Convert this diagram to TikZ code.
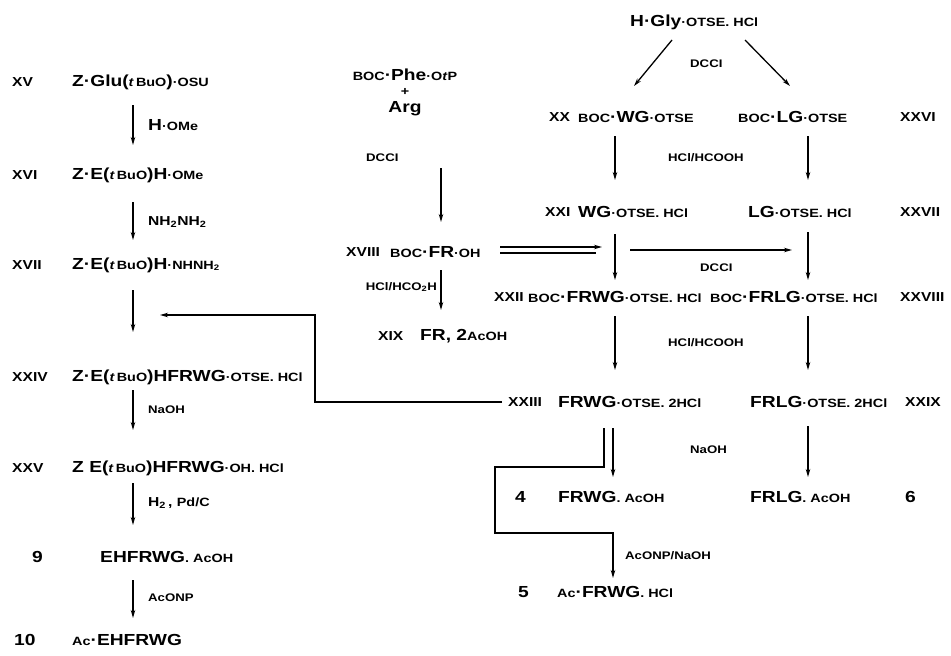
\documentclass[tikz,border=0pt]{standalone}
\usepackage{fontspec}
\setmainfont{Liberation Sans}[FakeStretch=1.2]
\usetikzlibrary{arrows.meta}
\newcommand{\sm}[1]{{\fontsize{12}{12}\selectfont #1}}
\newcommand{\tBuO}{\sm{\textit{t}\,BuO}}
\begin{document}
\begin{tikzpicture}[x=1pt,y=-1pt,
  every node/.style={inner sep=0pt,anchor=west,font=\fontsize{16}{16}\selectfont\bfseries},
  lab/.style={font=\fontsize{13}{13}\selectfont\bfseries},
  num/.style={font=\fontsize{16}{16}\selectfont\bfseries},
  rea/.style={font=\fontsize{11}{11}\selectfont\bfseries},
  arr/.style={-{Stealth[length=8pt,width=4.5pt]},line width=1.3pt},
  ln/.style={line width=1.3pt}]
\useasboundingbox (0,0) rectangle (951,656);
% ---------- left column ----------
\node[lab] (l15) at (12,82) {XV};
\node (f15) at (72,82) {Z·Glu(\tBuO)\sm{·OSU}};
\node (r1) at (148,125) {H\sm{·OMe}};
\node[lab] (l16) at (12,175) {XVI};
\node (f16) at (72,175) {Z·E(\tBuO)H\sm{·OMe}};
\node[font=\fontsize{13}{13}\selectfont\bfseries] (r2) at (148,222) {NH\textsubscript{2}NH\textsubscript{2}};
\node[lab] (l17) at (12,265) {XVII};
\node (f17) at (72,265) {Z·E(\tBuO)H\sm{·NHNH\textsubscript{2}}};
\node[lab] (l24) at (12,377) {XXIV};
\node (f24) at (72,377) {Z·E(\tBuO)HFRWG\sm{·OTSE. HCl}};
\node[rea] (r3) at (148,410) {NaOH};
\node[lab] (l25) at (12,468) {XXV};
\node (f25) at (72,468) {Z E(\tBuO)HFRWG\sm{·OH. HCl}};
\node[font=\fontsize{13}{13}\selectfont\bfseries] (r4) at (148,503) {H\textsubscript{2}\,, \sm{Pd/C}};
\node[num] (n9) at (32,557) {9};
\node (f9) at (100,557) {EHFRWG\sm{. AcOH}};
\node[rea] (r5) at (148,598) {AcONP};
\node[num] (n10) at (14,640) {10};
\node (f10) at (72,640) {\sm{Ac}·EHFRWG};
\foreach \n/\a/\b in {1/105/145,2/202/240,3/290/332,4/390/430,5/483/525,6/580/618}{
  \coordinate (la\n s) at (133,\a); \coordinate (la\n e) at (133,\b);
  \draw[arr] (la\n s) -- (la\n e);}
% ---------- middle ----------
\node[anchor=center] (phe) at (405,75) {\sm{BOC}·Phe\sm{·O\textit{t}P}};
\node[anchor=center,font=\fontsize{12}{12}\selectfont\bfseries] (plus) at (405,92) {+};
\node[anchor=center,font=\fontsize{16}{16}\selectfont\bfseries] (arg) at (405,109) {Arg};
\node[rea] (dcc1) at (366,158) {DCCI};
\coordinate (pa1s) at (441,168); \coordinate (pa1e) at (441,222);
\draw[arr] (pa1s) -- (pa1e);
\node[lab] (l18) at (346,252) {XVIII};
\node (f18) at (390,252) {\sm{BOC}·FR\sm{·OH}};
\coordinate (d1s) at (500,247); \coordinate (d1e) at (602,247);
\coordinate (d2s) at (500,253); \coordinate (d2e) at (596,253);
\draw[arr] (d1s) -- (d1e);
\draw[ln] (d2s) -- (d2e);
\node[rea,anchor=east] (r6) at (437,287) {HCl/HCO\textsubscript{2}H};
\coordinate (pa2s) at (441,270); \coordinate (pa2e) at (441,310);
\draw[arr] (pa2s) -- (pa2e);
\node[lab] (l19) at (378,336) {XIX};
\node (f19) at (420,336) {FR, 2\sm{AcOH}};
% ---------- right ----------
\node (gly) at (630,22) {H·Gly\sm{·OTSE. HCl}};
\coordinate (g1s) at (672,40); \coordinate (g1e) at (634,86);
\coordinate (g2s) at (745,40); \coordinate (g2e) at (790,86);
\draw[arr] (g1s) -- (g1e);
\draw[arr] (g2s) -- (g2e);
\node[rea] (dcc2) at (690,64) {DCCI};
\node[lab] (l20) at (549,117) {XX};
\node (f20) at (578,117) {\sm{BOC}·WG\sm{·OTSE}};
\node (f26) at (738,117) {\sm{BOC}·LG\sm{·OTSE}};
\node[lab] (l26) at (900,117) {XXVI};
\node[rea] (r7) at (668,158) {HCl/HCOOH};
\node[lab] (l21) at (545,212) {XXI};
\node (f21) at (578,212) {WG\sm{·OTSE. HCl}};
\node (f27) at (748,212) {LG\sm{·OTSE. HCl}};
\node[lab] (l27) at (900,212) {XXVII};
\coordinate (h1s) at (630,250); \coordinate (h1e) at (792,250);
\draw[arr] (h1s) -- (h1e);
\node[rea] (dcc3) at (700,268) {DCCI};
\node[lab] (l22) at (494,297) {XXII};
\node (f22) at (528,297) {\sm{BOC}·FRWG\sm{·OTSE. HCl}};
\node (f28) at (710,297) {\sm{BOC}·FRLG\sm{·OTSE. HCl}};
\node[lab] (l28) at (900,297) {XXVIII};
\node[rea] (r8) at (668,343) {HCl/HCOOH};
\node[lab] (l23) at (508,402) {XXIII};
\node (f23) at (558,402) {FRWG\sm{·OTSE. 2HCl}};
\node (f29) at (750,402) {FRLG\sm{·OTSE. 2HCl}};
\node[lab] (l29) at (905,402) {XXIX};
\node[rea] (r9) at (690,450) {NaOH};
\node[num] (n4) at (515,497) {4};
\node (f4) at (558,497) {FRWG\sm{. AcOH}};
\node (f6) at (750,497) {FRLG\sm{. AcOH}};
\node[num] (n6) at (905,497) {6};
\node[rea] (r10) at (625,556) {AcONP/NaOH};
\node[num] (n5) at (518,592) {5};
\node (f5) at (557,592) {\sm{Ac}·FRWG\sm{. HCl}};
\foreach \n/\x/\a/\b in {1/615/136/180,2/808/136/180,3/615/234/280,4/808/232/280,5/615/316/370,6/808/316/370,7/613/428/477,8/808/426/477}{
  \coordinate (ra\n s) at (\x,\a); \coordinate (ra\n e) at (\x,\b);
  \draw[arr] (ra\n s) -- (ra\n e);}
% return line XXIII -> left column
\coordinate (rt0) at (502,402);
\coordinate (rt1) at (315,402); \coordinate (rt2) at (315,315); \coordinate (rt3) at (160,315);
\draw[arr] (rt0) -- (rt1) -- (rt2) -- (rt3);
% bracket to Ac-FRWG
\coordinate (b0) at (604,428); \coordinate (b1) at (604,467); \coordinate (b2) at (495,467);
\coordinate (b3) at (495,533); \coordinate (b4) at (613,533); \coordinate (b5) at (613,578);
\draw[arr] (b0) -- (b1) -- (b2) -- (b3) -- (b4) -- (b5);
\end{tikzpicture}
\end{document}
